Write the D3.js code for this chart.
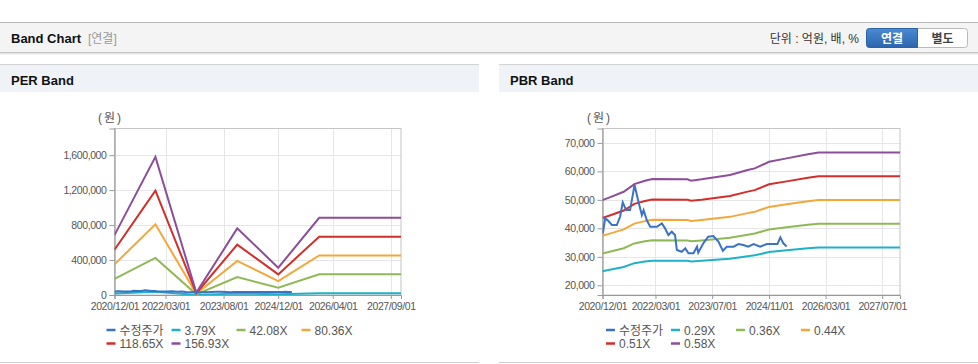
<!DOCTYPE html>
<html><head><meta charset="utf-8">
<script src="https://cdn.jsdelivr.net/npm/d3@7"></script>
<style>
body{margin:0;background:#fff;}
svg{display:block;font-family:"Liberation Sans","Noto Sans CJK KR",sans-serif;}
</style></head><body><svg id="c" width="978" height="364"></svg>
<script>
// ---------- DATA ----------
const seriesColors = ['#3a73c6','#1eb2c9','#8fb956','#f3a73b','#d32f2a','#8c4e9b'];
const perLabels = ['수정주가','3.79X','42.08X','80.36X','118.65X','156.93X'];
const pbrLabels = ['수정주가','0.29X','0.36X','0.44X','0.51X','0.58X'];

const priceDates = ['2020-12-04','2020-12-24','2021-01-13','2021-02-20','2021-04-03','2021-05-01','2021-05-24','2021-06-22','2021-07-26','2021-09-02','2021-10-06','2021-11-04','2021-11-19','2021-12-16','2022-01-15','2022-03-13','2022-04-25','2022-05-22','2022-06-20','2022-07-19','2022-08-16','2022-09-01','2022-10-13','2022-11-12','2022-12-10','2023-01-22','2023-02-21','2023-03-04','2023-04-16','2023-05-28','2023-07-12','2023-08-25','2023-10-01','2023-11-04','2024-01-01','2024-02-12','2024-03-25','2024-05-06','2024-06-21','2024-08-16','2024-10-13','2024-12-10','2025-01-12','2025-02-06','2025-03-04','2025-04-01'];
const priceValues = [38250,43500,42900,41160,41160,44070,49120,46420,46420,55190,49330,44670,46420,42910,40560,40560,41750,40000,37650,38810,37650,32390,31790,32980,31230,31230,33540,31440,34740,37050,37300,35300,32140,33540,33540,34490,34140,33540,34490,33540,34490,34490,34490,36840,34740,33600];

const perDates = ['2020-12-01','2021-12-01','2022-12-01','2023-12-01','2024-12-01','2025-12-01','2027-12-01'];
const per379  = [16500, 38200, 600, 18400, 7500, 21300, 21300];
const per4208 = [183700, 423700, 7200, 204300, 83700, 236800, 236800];
const per8036 = [350800, 809100, 13700, 390200, 159800, 452200, 452200];
const per11865 = [518000, 1194600, 20200, 576200, 235900, 667600, 667600];
const per15693 = [685000, 1580000, 27000, 762000, 312000, 883000, 883000];

const pbrDates = ['2020-12-01','2021-02-01','2021-06-01','2021-09-01','2021-12-01','2022-02-01','2022-12-01','2023-01-01','2023-04-01','2023-12-01','2024-05-01','2024-07-01','2024-11-01','2025-04-01','2025-10-01','2026-01-01','2027-12-01'];
const pbr029 = [24950,25440,26420,27770,28350,28650,28600,28380,28600,29350,30230,30530,31690,32280,33000,33300,33300];
const pbr036 = [31190,31790,33030,34710,35440,35810,35750,35470,35750,36690,37780,38160,39610,40350,41250,41630,41630];
const pbr044 = [37430,38150,39630,41660,42530,42980,42900,42560,42900,44030,45340,45790,47530,48420,49500,49950,49950];
const pbr051 = [43660,44510,46240,48600,49610,50140,50050,49660,50050,51360,52890,53420,55450,56490,57750,58280,58280];
const pbr058 = [49900,50870,52840,55540,56700,57300,57200,56750,57200,58700,60450,61050,63370,64560,66000,66600,66600];

const perXTicks = ['2020-12-01','2022-03-01','2023-08-01','2024-12-01','2026-04-01','2027-09-01'];
const pbrXTicks = ['2020-12-01','2022-03-01','2023-07-01','2024-11-01','2026-03-01','2027-07-01'];
const perYTicks = [0,400000,800000,1200000,1600000];
const pbrYTicks = [20000,30000,40000,50000,60000,70000];
const xDomain = ['2020-12-01','2027-12-01'];
const perYDomain = [0, 1905000];
const pbrYDomain = [16600, 75050];

// ---------- DRAW ----------
const parse = d3.timeParse('%Y-%m-%d');
const fmtTick = d3.timeFormat('%Y/%m/%d');
const svg = d3.select('#c');

// top header bar
svg.append('line').attr('x1',0).attr('x2',978).attr('y1',22.5).attr('y2',22.5).attr('stroke','#b8b8b8');
svg.append('rect').attr('x',0).attr('y',23).attr('width',978).attr('height',29).attr('fill','#f4f4f4');
svg.append('line').attr('x1',0).attr('x2',978).attr('y1',52.5).attr('y2',52.5).attr('stroke','#c4c4c4');
svg.append('line').attr('x1',0).attr('x2',978).attr('y1',53.5).attr('y2',53.5).attr('stroke','#e4e4e4');
svg.append('line').attr('x1',0).attr('x2',978).attr('y1',54.5).attr('y2',54.5).attr('stroke','#f2f2f2');
svg.append('text').attr('x',11).attr('y',42.5).attr('font-size',13).attr('font-weight','bold').attr('fill','#111').text('Band Chart');
svg.append('text').attr('x',88).attr('y',42.5).attr('font-size',12).attr('fill','#999').text('[연결]');
svg.append('text').attr('x',859).attr('y',42.5).attr('text-anchor','end').attr('font-size',12).attr('fill','#333').text('단위 : 억원, 배, %');

// buttons
const defs = svg.append('defs');
const grad = defs.append('linearGradient').attr('id','btnBlue').attr('x1',0).attr('x2',0).attr('y1',0).attr('y2',1);
grad.append('stop').attr('offset','0%').attr('stop-color','#4a8ad4');
grad.append('stop').attr('offset','100%').attr('stop-color','#2b66ac');
svg.append('rect').attr('x',866.5).attr('y',28.5).attr('width',101).attr('height',19).attr('rx',3).attr('fill','#fff').attr('stroke','#b9b9b9');
svg.append('path').attr('d','M869.5,28.5 H917.5 V47.5 H869.5 Q866.5,47.5 866.5,44.5 V31.5 Q866.5,28.5 869.5,28.5 Z').attr('fill','url(#btnBlue)').attr('stroke','#2a62a6');
svg.append('text').attr('x',892).attr('y',42.5).attr('text-anchor','middle').attr('font-size',12).attr('font-weight','bold').attr('fill','#fff').text('연결');
svg.append('text').attr('x',942.5).attr('y',42.5).attr('text-anchor','middle').attr('font-size',12).attr('font-weight','bold').attr('fill','#444').text('별도');

function drawPanel(o){
  const g = svg.append('g');
  g.append('line').attr('x1',o.px0).attr('x2',o.px1).attr('y1',64.5).attr('y2',64.5).attr('stroke','#d2d2d2');
  g.append('rect').attr('x',o.px0).attr('y',65).attr('width',o.px1-o.px0).attr('height',27).attr('fill','#eff2f7');
  g.append('text').attr('x',o.px0+11).attr('y',84.5).attr('font-size',13).attr('font-weight','bold').attr('fill','#111').text(o.title);
  g.append('line').attr('x1',o.px0).attr('x2',o.px1).attr('y1',362.5).attr('y2',362.5).attr('stroke','#cfcfcf');

  const x = d3.scaleTime().domain(xDomain.map(parse)).range([o.x0,o.x1]);
  const y = d3.scaleLinear().domain(o.yDomain).range([o.y1,o.y0]);

  // grid
  const xt = o.xTicks.map(parse);
  g.selectAll(null).data(xt).join('line')
    .attr('x1',d=>Math.round(x(d))+0.5).attr('x2',d=>Math.round(x(d))+0.5)
    .attr('y1',o.y0).attr('y2',o.y1).attr('stroke','#e6e6e6');
  g.selectAll(null).data(o.yTicks).join('line')
    .attr('x1',o.x0).attr('x2',o.x1)
    .attr('y1',d=>Math.round(y(d))+0.5).attr('y2',d=>Math.round(y(d))+0.5).attr('stroke','#e6e6e6');
  // frame
  g.append('rect').attr('x',o.x0).attr('y',o.y0).attr('width',o.x1-o.x0).attr('height',o.y1-o.y0)
    .attr('fill','none').attr('stroke','#c4c4c4');

  // axes
  const ya = d3.axisLeft(y).tickValues(o.yTicks).tickSize(5).tickPadding(3).tickFormat(d3.format(','));
  const yg = g.append('g').attr('transform',`translate(${o.x0},0)`).call(ya);
  const xa = d3.axisBottom(x).tickValues(xt).tickSize(4).tickPadding(4).tickFormat(fmtTick);
  const xg = g.append('g').attr('transform',`translate(0,${o.y1})`).call(xa);
  [yg,xg].forEach(a=>{
    a.select('.domain').attr('stroke','#999');
    a.selectAll('.tick line').attr('stroke','#999');
    a.selectAll('.tick text').attr('fill','#555').attr('font-size',10.5).attr('letter-spacing','-0.4px')
      .attr('font-family','"Liberation Sans","DejaVu Sans",sans-serif');
  });
  g.append('text').attr('x',o.unitX).attr('y',122).attr('font-size',12).attr('fill','#555')
    .attr('letter-spacing','2px').text('(원)');

  // lines
  const clipId = 'clip'+o.id;
  defs.append('clipPath').attr('id',clipId).append('rect')
    .attr('x',o.x0).attr('y',o.y0).attr('width',o.x1-o.x0).attr('height',o.y1-o.y0);
  const line = d3.line().x(d=>x(d[0])).y(d=>y(d[1]));
  const lg = g.append('g').attr('clip-path',`url(#${clipId})`);
  o.bands.forEach((vals,i)=>{
    const pts = o.bandDates.map((d,j)=>[parse(d),vals[j]]);
    lg.append('path').attr('d',line(pts)).attr('fill','none').attr('stroke',seriesColors[i+1]).attr('stroke-width',2);
  });
  const pp = priceDates.map((d,j)=>[parse(d),priceValues[j]]);
  lg.append('path').attr('d',line(pp)).attr('fill','none').attr('stroke',seriesColors[0]).attr('stroke-width',2);

  // legend
  o.labels.forEach((lab,i)=>{
    const col = i%4, row = Math.floor(i/4);
    const lx = o.legX + col*65, ly = 330 + row*13.5;
    g.append('line').attr('x1',lx).attr('x2',lx+9).attr('y1',ly).attr('y2',ly)
      .attr('stroke',seriesColors[i]).attr('stroke-width',2.5);
    g.append('text').attr('x',lx+13).attr('y',ly+4.5).attr('font-size',12).attr('fill','#555').text(lab);
  });
}

drawPanel({id:'per',title:'PER Band',px0:0,px1:479,x0:114.5,x1:401,y0:128.5,y1:295,
  yDomain:perYDomain,yTicks:perYTicks,xTicks:perXTicks,unitX:98,
  bandDates:perDates,bands:[per379,per4208,per8036,per11865,per15693],labels:perLabels,legX:106.5});
drawPanel({id:'pbr',title:'PBR Band',px0:499,px1:978,x0:602.5,x1:900,y0:128.5,y1:295,
  yDomain:pbrYDomain,yTicks:pbrYTicks,xTicks:pbrXTicks,unitX:587,
  bandDates:pbrDates,bands:[pbr029,pbr036,pbr044,pbr051,pbr058],labels:pbrLabels,legX:606});
</script></body></html>
